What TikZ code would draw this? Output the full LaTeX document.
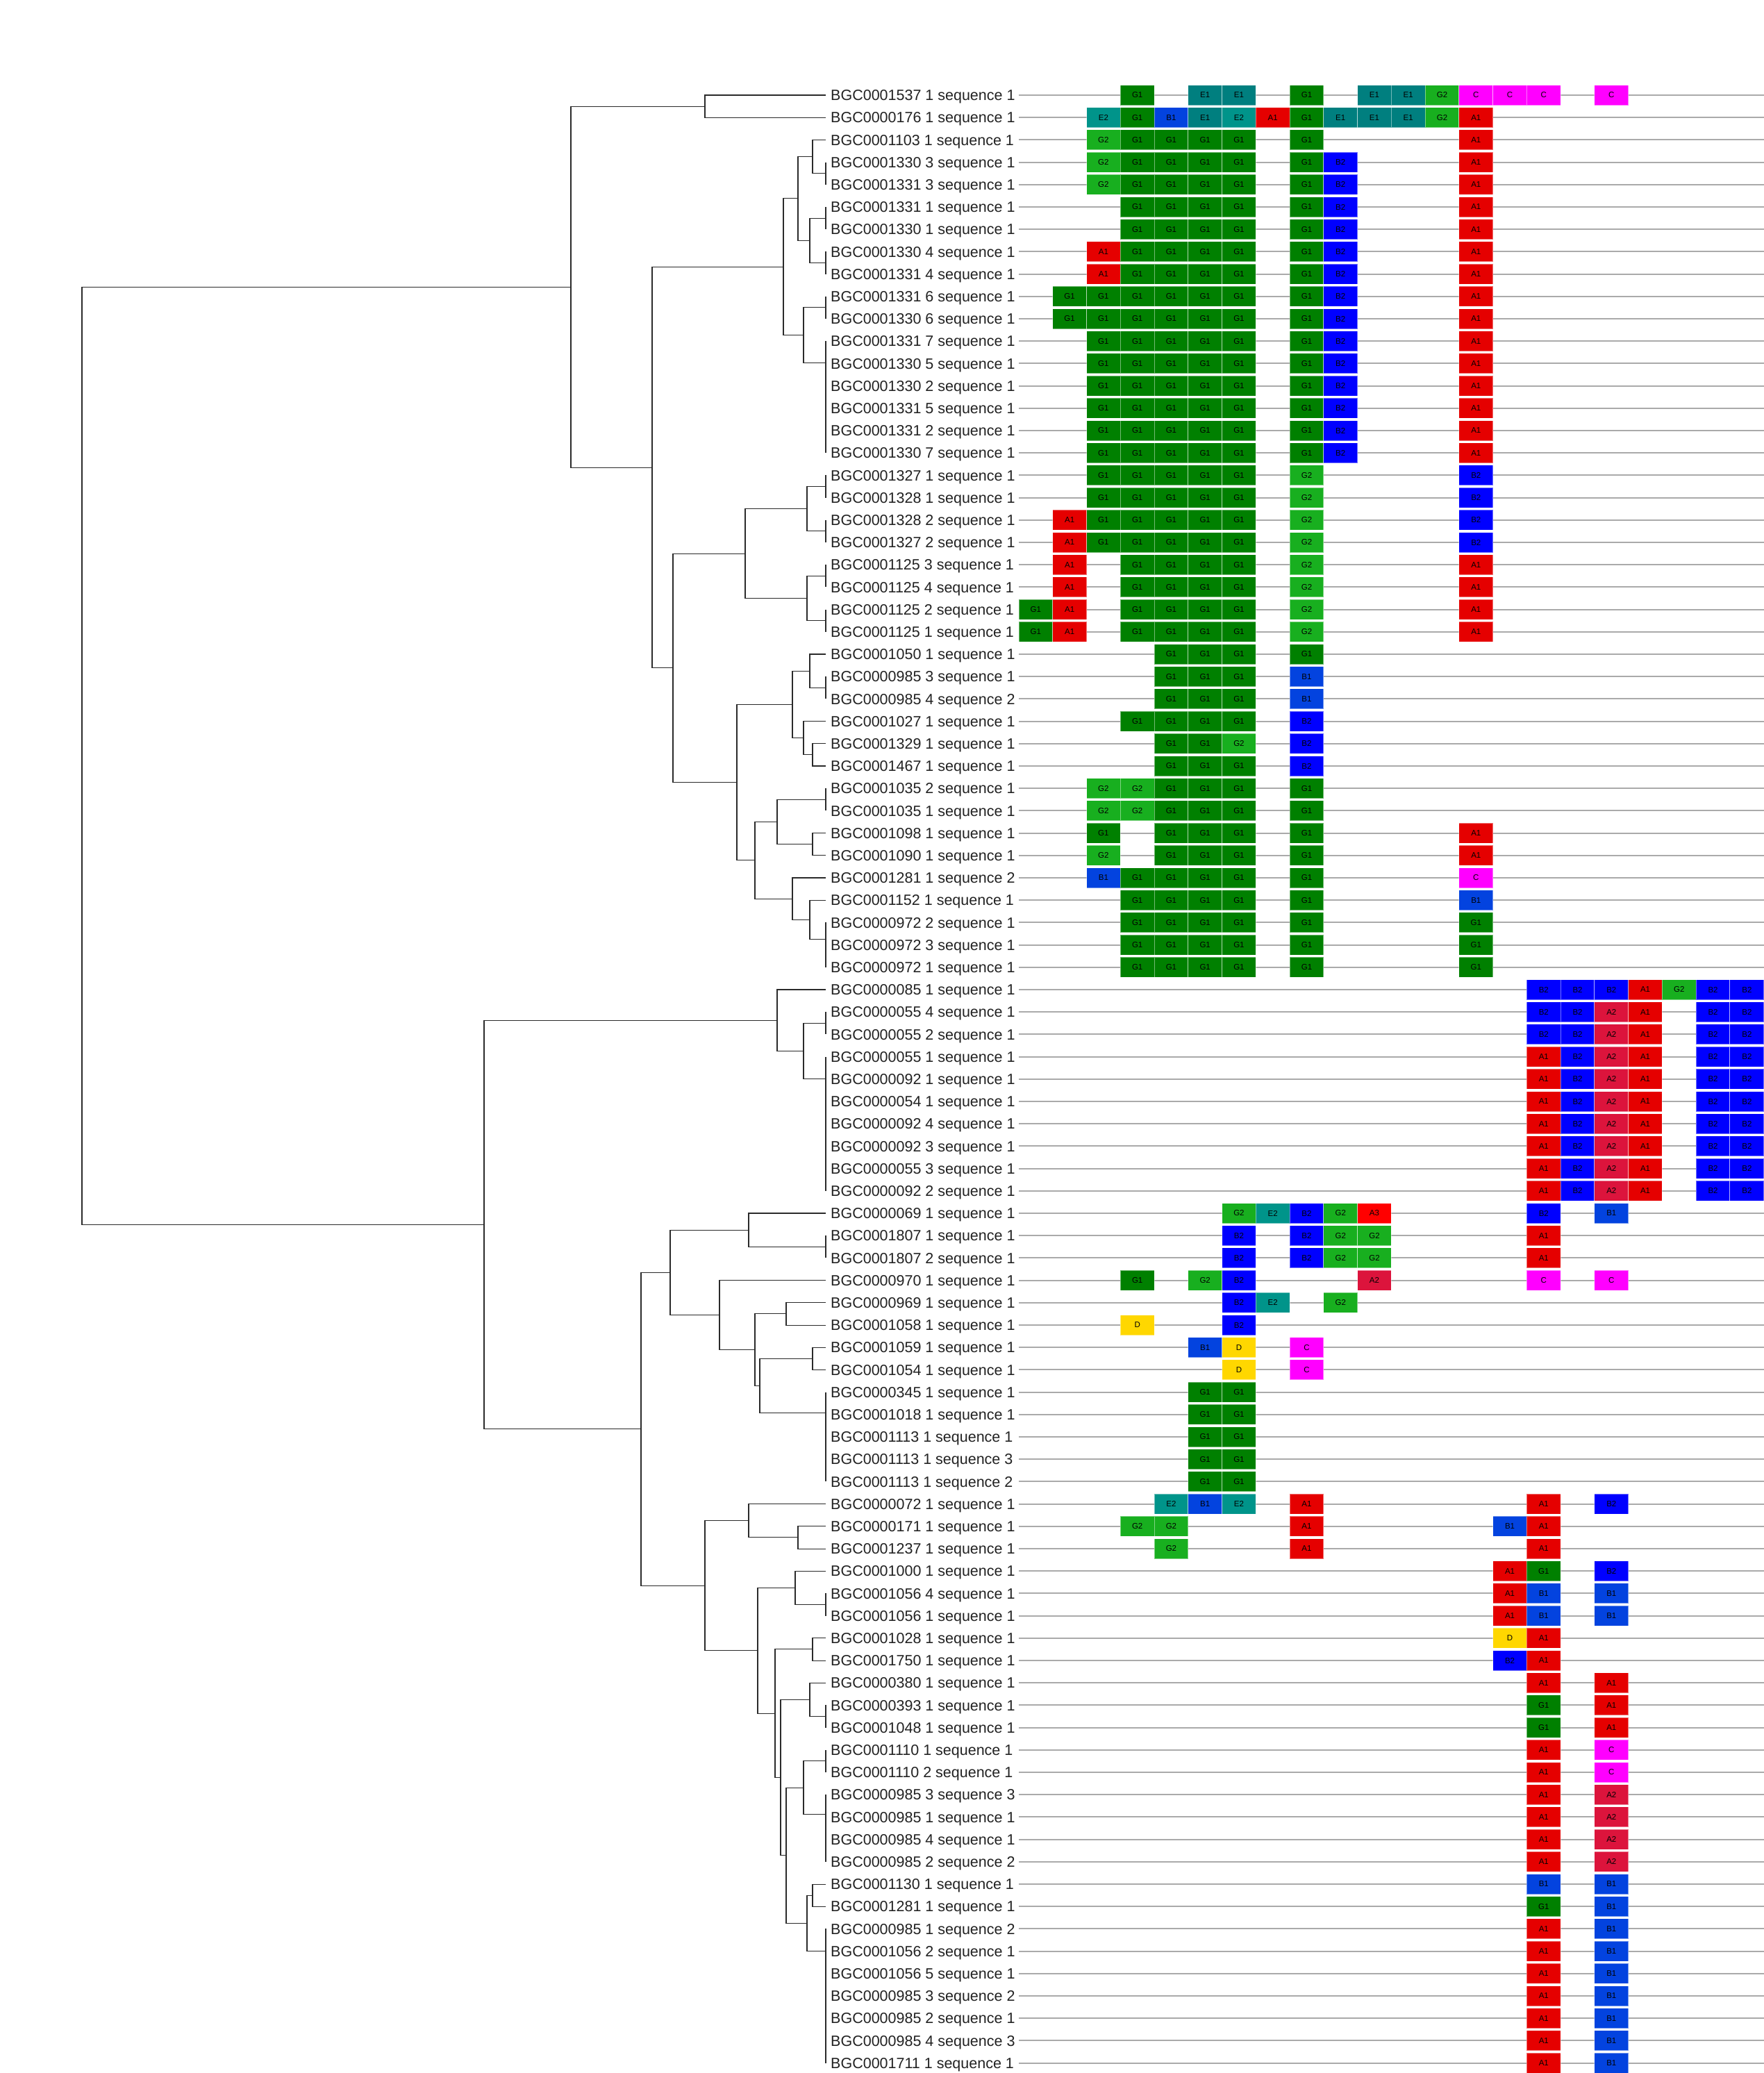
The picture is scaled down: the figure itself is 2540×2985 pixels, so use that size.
\documentclass[tikz,border=0pt]{standalone}
\usepackage{fontspec}
\setmainfont{Liberation Sans}
\usetikzlibrary{calc}
\definecolor{TreeInk}{HTML}{2A2A2A}
\definecolor{TrackGray}{HTML}{AAAAAA}
\definecolor{LabelInk}{HTML}{222222}
\definecolor{GeneG1}{HTML}{008000}
\definecolor{GeneG2}{HTML}{18AF1F}
\definecolor{GeneE1}{HTML}{007F7F}
\definecolor{GeneE2}{HTML}{00948A}
\definecolor{GeneB1}{HTML}{0343DF}
\definecolor{GeneB2}{HTML}{0000FF}
\definecolor{GeneA1}{HTML}{E50000}
\definecolor{GeneA2}{HTML}{DC143C}
\definecolor{GeneA3}{HTML}{FF0000}
\definecolor{GeneC}{HTML}{FF00FF}
\definecolor{GeneD}{HTML}{FFD700}
\tikzset{
  branch/.style={draw=TreeInk, line width=1.05pt},
  track/.style={draw=TrackGray, line width=2pt},
  leaflabel/.style={anchor=base west, inner sep=0pt, text=LabelInk, font=\fontsize{21.5}{24}\selectfont},
  genebox/.style={draw=white, draw opacity=0.45, line width=1pt, minimum width=48.76pt, minimum height=29pt, inner sep=0pt, text=black, font=\fontsize{11.5}{12}\selectfont}
}
\newcommand\joinclade[4]{%
  \coordinate (#1m) at ($(#3)!0.5!(#4)$);
  \coordinate (#1) at (#2,0 |- #1m);
  \draw[branch] (#1) |- (#3);
  \draw[branch] (#1) |- (#4);
}

\begin{document}
\begin{tikzpicture}[x=1pt, y=-1pt]
\fill[white] (0,0) rectangle (2540,2985);
\useasboundingbox (0,0) rectangle (2540,2985);

\foreach \r/\nm/\gs in {
  1/BGC0001537 1 sequence 1/{3/G1,5/E1,6/E1,8/G1,10/E1,11/E1,12/G2,13/C,14/C,15/C,17/C},
  2/BGC0000176 1 sequence 1/{2/E2,3/G1,4/B1,5/E1,6/E2,7/A1,8/G1,9/E1,10/E1,11/E1,12/G2,13/A1},
  3/BGC0001103 1 sequence 1/{2/G2,3/G1,4/G1,5/G1,6/G1,8/G1,13/A1},
  4/BGC0001330 3 sequence 1/{2/G2,3/G1,4/G1,5/G1,6/G1,8/G1,9/B2,13/A1},
  5/BGC0001331 3 sequence 1/{2/G2,3/G1,4/G1,5/G1,6/G1,8/G1,9/B2,13/A1},
  6/BGC0001331 1 sequence 1/{3/G1,4/G1,5/G1,6/G1,8/G1,9/B2,13/A1},
  7/BGC0001330 1 sequence 1/{3/G1,4/G1,5/G1,6/G1,8/G1,9/B2,13/A1},
  8/BGC0001330 4 sequence 1/{2/A1,3/G1,4/G1,5/G1,6/G1,8/G1,9/B2,13/A1},
  9/BGC0001331 4 sequence 1/{2/A1,3/G1,4/G1,5/G1,6/G1,8/G1,9/B2,13/A1},
  10/BGC0001331 6 sequence 1/{1/G1,2/G1,3/G1,4/G1,5/G1,6/G1,8/G1,9/B2,13/A1},
  11/BGC0001330 6 sequence 1/{1/G1,2/G1,3/G1,4/G1,5/G1,6/G1,8/G1,9/B2,13/A1},
  12/BGC0001331 7 sequence 1/{2/G1,3/G1,4/G1,5/G1,6/G1,8/G1,9/B2,13/A1},
  13/BGC0001330 5 sequence 1/{2/G1,3/G1,4/G1,5/G1,6/G1,8/G1,9/B2,13/A1},
  14/BGC0001330 2 sequence 1/{2/G1,3/G1,4/G1,5/G1,6/G1,8/G1,9/B2,13/A1},
  15/BGC0001331 5 sequence 1/{2/G1,3/G1,4/G1,5/G1,6/G1,8/G1,9/B2,13/A1},
  16/BGC0001331 2 sequence 1/{2/G1,3/G1,4/G1,5/G1,6/G1,8/G1,9/B2,13/A1},
  17/BGC0001330 7 sequence 1/{2/G1,3/G1,4/G1,5/G1,6/G1,8/G1,9/B2,13/A1},
  18/BGC0001327 1 sequence 1/{2/G1,3/G1,4/G1,5/G1,6/G1,8/G2,13/B2},
  19/BGC0001328 1 sequence 1/{2/G1,3/G1,4/G1,5/G1,6/G1,8/G2,13/B2},
  20/BGC0001328 2 sequence 1/{1/A1,2/G1,3/G1,4/G1,5/G1,6/G1,8/G2,13/B2},
  21/BGC0001327 2 sequence 1/{1/A1,2/G1,3/G1,4/G1,5/G1,6/G1,8/G2,13/B2},
  22/BGC0001125 3 sequence 1/{1/A1,3/G1,4/G1,5/G1,6/G1,8/G2,13/A1},
  23/BGC0001125 4 sequence 1/{1/A1,3/G1,4/G1,5/G1,6/G1,8/G2,13/A1},
  24/BGC0001125 2 sequence 1/{0/G1,1/A1,3/G1,4/G1,5/G1,6/G1,8/G2,13/A1},
  25/BGC0001125 1 sequence 1/{0/G1,1/A1,3/G1,4/G1,5/G1,6/G1,8/G2,13/A1},
  26/BGC0001050 1 sequence 1/{4/G1,5/G1,6/G1,8/G1},
  27/BGC0000985 3 sequence 1/{4/G1,5/G1,6/G1,8/B1},
  28/BGC0000985 4 sequence 2/{4/G1,5/G1,6/G1,8/B1},
  29/BGC0001027 1 sequence 1/{3/G1,4/G1,5/G1,6/G1,8/B2},
  30/BGC0001329 1 sequence 1/{4/G1,5/G1,6/G2,8/B2},
  31/BGC0001467 1 sequence 1/{4/G1,5/G1,6/G1,8/B2},
  32/BGC0001035 2 sequence 1/{2/G2,3/G2,4/G1,5/G1,6/G1,8/G1},
  33/BGC0001035 1 sequence 1/{2/G2,3/G2,4/G1,5/G1,6/G1,8/G1},
  34/BGC0001098 1 sequence 1/{2/G1,4/G1,5/G1,6/G1,8/G1,13/A1},
  35/BGC0001090 1 sequence 1/{2/G2,4/G1,5/G1,6/G1,8/G1,13/A1},
  36/BGC0001281 1 sequence 2/{2/B1,3/G1,4/G1,5/G1,6/G1,8/G1,13/C},
  37/BGC0001152 1 sequence 1/{3/G1,4/G1,5/G1,6/G1,8/G1,13/B1},
  38/BGC0000972 2 sequence 1/{3/G1,4/G1,5/G1,6/G1,8/G1,13/G1},
  39/BGC0000972 3 sequence 1/{3/G1,4/G1,5/G1,6/G1,8/G1,13/G1},
  40/BGC0000972 1 sequence 1/{3/G1,4/G1,5/G1,6/G1,8/G1,13/G1},
  41/BGC0000085 1 sequence 1/{15/B2,16/B2,17/B2,18/A1,19/G2,20/B2,21/B2},
  42/BGC0000055 4 sequence 1/{15/B2,16/B2,17/A2,18/A1,20/B2,21/B2},
  43/BGC0000055 2 sequence 1/{15/B2,16/B2,17/A2,18/A1,20/B2,21/B2},
  44/BGC0000055 1 sequence 1/{15/A1,16/B2,17/A2,18/A1,20/B2,21/B2},
  45/BGC0000092 1 sequence 1/{15/A1,16/B2,17/A2,18/A1,20/B2,21/B2},
  46/BGC0000054 1 sequence 1/{15/A1,16/B2,17/A2,18/A1,20/B2,21/B2},
  47/BGC0000092 4 sequence 1/{15/A1,16/B2,17/A2,18/A1,20/B2,21/B2},
  48/BGC0000092 3 sequence 1/{15/A1,16/B2,17/A2,18/A1,20/B2,21/B2},
  49/BGC0000055 3 sequence 1/{15/A1,16/B2,17/A2,18/A1,20/B2,21/B2},
  50/BGC0000092 2 sequence 1/{15/A1,16/B2,17/A2,18/A1,20/B2,21/B2},
  51/BGC0000069 1 sequence 1/{6/G2,7/E2,8/B2,9/G2,10/A3,15/B2,17/B1},
  52/BGC0001807 1 sequence 1/{6/B2,8/B2,9/G2,10/G2,15/A1},
  53/BGC0001807 2 sequence 1/{6/B2,8/B2,9/G2,10/G2,15/A1},
  54/BGC0000970 1 sequence 1/{3/G1,5/G2,6/B2,10/A2,15/C,17/C},
  55/BGC0000969 1 sequence 1/{6/B2,7/E2,9/G2},
  56/BGC0001058 1 sequence 1/{3/D,6/B2},
  57/BGC0001059 1 sequence 1/{5/B1,6/D,8/C},
  58/BGC0001054 1 sequence 1/{6/D,8/C},
  59/BGC0000345 1 sequence 1/{5/G1,6/G1},
  60/BGC0001018 1 sequence 1/{5/G1,6/G1},
  61/BGC0001113 1 sequence 1/{5/G1,6/G1},
  62/BGC0001113 1 sequence 3/{5/G1,6/G1},
  63/BGC0001113 1 sequence 2/{5/G1,6/G1},
  64/BGC0000072 1 sequence 1/{4/E2,5/B1,6/E2,8/A1,15/A1,17/B2},
  65/BGC0000171 1 sequence 1/{3/G2,4/G2,8/A1,14/B1,15/A1},
  66/BGC0001237 1 sequence 1/{4/G2,8/A1,15/A1},
  67/BGC0001000 1 sequence 1/{14/A1,15/G1,17/B2},
  68/BGC0001056 4 sequence 1/{14/A1,15/B1,17/B1},
  69/BGC0001056 1 sequence 1/{14/A1,15/B1,17/B1},
  70/BGC0001028 1 sequence 1/{14/D,15/A1},
  71/BGC0001750 1 sequence 1/{14/B2,15/A1},
  72/BGC0000380 1 sequence 1/{15/A1,17/A1},
  73/BGC0000393 1 sequence 1/{15/G1,17/A1},
  74/BGC0001048 1 sequence 1/{15/G1,17/A1},
  75/BGC0001110 1 sequence 1/{15/A1,17/C},
  76/BGC0001110 2 sequence 1/{15/A1,17/C},
  77/BGC0000985 3 sequence 3/{15/A1,17/A2},
  78/BGC0000985 1 sequence 1/{15/A1,17/A2},
  79/BGC0000985 4 sequence 1/{15/A1,17/A2},
  80/BGC0000985 2 sequence 2/{15/A1,17/A2},
  81/BGC0001130 1 sequence 1/{15/B1,17/B1},
  82/BGC0001281 1 sequence 1/{15/G1,17/B1},
  83/BGC0000985 1 sequence 2/{15/A1,17/B1},
  84/BGC0001056 2 sequence 1/{15/A1,17/B1},
  85/BGC0001056 5 sequence 1/{15/A1,17/B1},
  86/BGC0000985 3 sequence 2/{15/A1,17/B1},
  87/BGC0000985 2 sequence 1/{15/A1,17/B1},
  88/BGC0000985 4 sequence 3/{15/A1,17/B1},
  89/BGC0001711 1 sequence 1/{15/A1,17/B1}}{
  \pgfmathsetmacro\yy{137+32.2*(\r-1)}
  \coordinate (t\r) at (1189,\yy);
  \coordinate (s\r) at (1467,\yy);
  \coordinate (e\r) at (2540,\yy);
  \node[leaflabel] (lab\r) at (1196,{\yy+7.7}) {\nm};
  \draw[track] (s\r) -- (e\r);
  \foreach \c/\g in \gs {
    \node[genebox, fill=Gene\g] (g\r-\c) at ({1491.38+48.76*\c},\yy) {\g};
  }
}

\joinclade{n12}{1015}{t1}{t2}
\joinclade{c45}{1189}{t4}{t5}
\joinclade{nA}{1170}{t3}{c45}
\joinclade{c67}{1189}{t6}{t7}
\joinclade{c89}{1189}{t8}{t9}
\joinclade{nB}{1166}{c67}{c89}
\joinclade{nC}{1149}{nA}{nB}
\joinclade{c1011}{1189}{t10}{t11}
\joinclade{c1617}{1189}{t16}{t17}
\joinclade{c1517}{1189}{t15}{c1617}
\joinclade{c1417}{1189}{t14}{c1517}
\joinclade{c1317}{1189}{t13}{c1417}
\joinclade{c1217}{1189}{t12}{c1317}
\joinclade{nE}{1157}{c1011}{c1217}
\joinclade{nD}{1128}{nC}{nE}
\joinclade{c1819}{1189}{t18}{t19}
\joinclade{c2021}{1189}{t20}{t21}
\joinclade{nH1}{1162}{c1819}{c2021}
\joinclade{c2223}{1189}{t22}{t23}
\joinclade{c2425}{1189}{t24}{t25}
\joinclade{nH2}{1162}{c2223}{c2425}
\joinclade{nH}{1073}{nH1}{nH2}
\joinclade{c2728}{1189}{t27}{t28}
\joinclade{nJ1}{1166}{t26}{c2728}
\joinclade{n3031}{1170}{t30}{t31}
\joinclade{nJ2}{1157}{t29}{n3031}
\joinclade{nJ}{1141}{nJ1}{nJ2}
\joinclade{c3233}{1189}{t32}{t33}
\joinclade{n3435}{1170}{t34}{t35}
\joinclade{nK1}{1119}{c3233}{n3435}
\joinclade{c3940}{1189}{t39}{t40}
\joinclade{c3840}{1189}{t38}{c3940}
\joinclade{nM}{1166}{t37}{c3840}
\joinclade{nL}{1141}{t36}{nM}
\joinclade{nK}{1087}{nK1}{nL}
\joinclade{nI}{1061}{nJ}{nK}
\joinclade{nG}{969}{nH}{nI}
\joinclade{nF}{939}{nD}{nG}
\joinclade{nX1}{822}{n12}{nF}

\joinclade{c4243}{1189}{t42}{t43}
\joinclade{c4950}{1189}{t49}{t50}
\joinclade{c4850}{1189}{t48}{c4950}
\joinclade{c4750}{1189}{t47}{c4850}
\joinclade{c4650}{1189}{t46}{c4750}
\joinclade{c4550}{1189}{t45}{c4650}
\joinclade{c4450}{1189}{t44}{c4550}
\joinclade{nN2}{1157}{c4243}{c4450}
\joinclade{nN}{1119}{t41}{nN2}
\joinclade{c5253}{1189}{t52}{t53}
\joinclade{nP1}{1078}{t51}{c5253}
\joinclade{nQ3}{1132}{t55}{t56}
\joinclade{n5758}{1170}{t57}{t58}
\joinclade{c6263}{1189}{t62}{t63}
\joinclade{c6163}{1189}{t61}{c6263}
\joinclade{c6063}{1189}{t60}{c6163}
\joinclade{c5963}{1189}{t59}{c6063}
\joinclade{nQ4}{1094}{n5758}{c5963}
\joinclade{nQ2}{1087}{nQ3}{nQ4}
\joinclade{nQ}{1036}{t54}{nQ2}
\joinclade{nP}{965}{nP1}{nQ}
\joinclade{n6566}{1149}{t65}{t66}
\joinclade{nR1}{1078}{t64}{n6566}
\joinclade{c6869}{1189}{t68}{t69}
\joinclade{nS1}{1145}{t67}{c6869}
\joinclade{n7071}{1170}{t70}{t71}
\joinclade{c7374}{1189}{t73}{t74}
\joinclade{nU1}{1166}{t72}{c7374}
\joinclade{c7576}{1189}{t75}{t76}
\joinclade{c7980}{1189}{t79}{t80}
\joinclade{c7880}{1189}{t78}{c7980}
\joinclade{c7780}{1189}{t77}{c7880}
\joinclade{nV1}{1157}{c7576}{c7780}
\joinclade{n8182}{1170}{t81}{t82}
\joinclade{c8889}{1189}{t88}{t89}
\joinclade{c8789}{1189}{t87}{c8889}
\joinclade{c8689}{1189}{t86}{c8789}
\joinclade{c8589}{1189}{t85}{c8689}
\joinclade{c8489}{1189}{t84}{c8589}
\joinclade{c8389}{1189}{t83}{c8489}
\joinclade{nW}{1162}{n8182}{c8389}
\joinclade{nV}{1132}{nV1}{nW}
\joinclade{nU}{1124}{nU1}{nV}
\joinclade{nT}{1116}{n7071}{nU}
\joinclade{nS}{1091}{nS1}{nT}
\joinclade{nR}{1015}{nR1}{nS}
\joinclade{nO}{923}{nP}{nR}
\joinclade{nX2}{697}{nN}{nO}
\joinclade{root}{118}{nX1}{nX2}
\end{tikzpicture}
\end{document}
